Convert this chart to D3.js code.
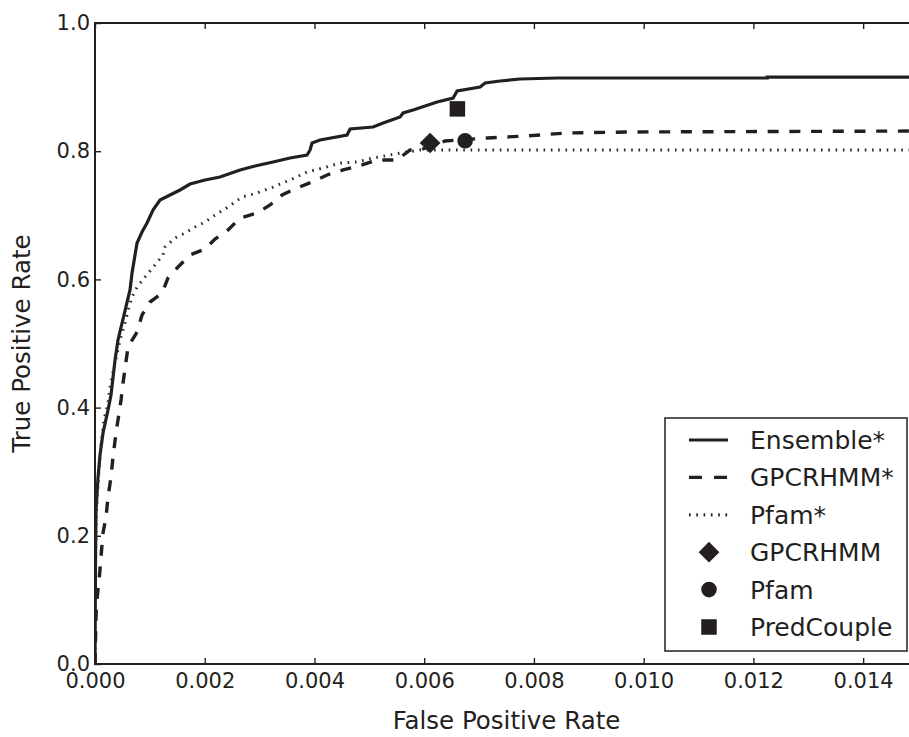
<!DOCTYPE html>
<html>
<head>
<meta charset="utf-8">
<script src="https://cdn.jsdelivr.net/npm/d3@7"></script>
<style>
  body { margin: 0; background: #fff; }
  text { font-family: "DejaVu Sans", sans-serif; fill: #231f20; }
</style>
</head>
<body>
<div id="roc"></div>
<script>
// roc curves (fpr, tpr)
var ensembleFpr = [0, 0.0000091, 0.0000182, 0.0000547, 0.0000912, 0.000146, 0.000237, 0.000292, 0.000365, 0.000419,
  0.000529, 0.000638, 0.000675, 0.000766, 0.000857, 0.000948, 0.001057, 0.001185, 0.001367, 0.00155,
  0.001732, 0.002006, 0.002279, 0.002644, 0.002917, 0.003245, 0.003555, 0.003865, 0.00392, 0.003956,
  0.004102, 0.004594, 0.004649, 0.005068, 0.005251, 0.005561, 0.005615, 0.005798, 0.006235, 0.006527,
  0.0066, 0.007019, 0.00711, 0.007384, 0.007749, 0.008423, 0.012252, 0.012252, 0.015];
var ensembleTpr = [0, 0.1622, 0.2402, 0.2902, 0.3261, 0.3604, 0.3963, 0.4197, 0.4743, 0.5055,
  0.5445, 0.5835, 0.61, 0.6568, 0.674, 0.688, 0.7083, 0.7239, 0.7317, 0.7395,
  0.7488, 0.7551, 0.7598, 0.7707, 0.7769, 0.7832, 0.7894, 0.7941, 0.8019, 0.8128,
  0.8175, 0.8253, 0.8346, 0.8378, 0.844, 0.8534, 0.8596, 0.8643, 0.8768, 0.883,
  0.8939, 0.9002, 0.9064, 0.9095, 0.9126, 0.9142, 0.9142, 0.9157, 0.9157];

var gpcrFpr = [0, 0.0000091, 0.0000237, 0.0000857, 0.000109, 0.000146, 0.000201, 0.000237, 0.000292, 0.000328,
  0.000383, 0.000474, 0.000511, 0.000602, 0.000766, 0.000857, 0.001003, 0.001222, 0.001331, 0.001513,
  0.001732, 0.002006, 0.002188, 0.002425, 0.002644, 0.002954, 0.003191, 0.003409, 0.003683, 0.003956,
  0.00423, 0.004522, 0.004868, 0.005141, 0.005506, 0.005743, 0.005925, 0.006381, 0.007147, 0.00784,
  0.008606, 0.009754, 0.015];
var gpcrTpr = [0, 0.0374, 0.0889, 0.142, 0.1669, 0.2044, 0.2293, 0.2605, 0.2917, 0.3229,
  0.3604, 0.4119, 0.4384, 0.4945, 0.5179, 0.5445, 0.5647, 0.5788, 0.6022, 0.6193,
  0.6381, 0.6474, 0.663, 0.6771, 0.6958, 0.7036, 0.7161, 0.7317, 0.7426, 0.752,
  0.7629, 0.7707, 0.7785, 0.7863, 0.7863, 0.8019, 0.8019, 0.8159, 0.8206, 0.8237,
  0.8284, 0.83, 0.8315];

var pfamFpr = [0, 0, 0.0000091, 0.0000182, 0.0000365, 0.0000729, 0.000109, 0.000164, 0.000237, 0.000273,
  0.000365, 0.000456, 0.000547, 0.00062, 0.000675, 0.000766, 0.000912, 0.001094, 0.00124, 0.001276,
  0.001459, 0.001641, 0.001823, 0.002006, 0.002188, 0.002425, 0.00268, 0.002954, 0.003245, 0.003555,
  0.003865, 0.004157, 0.004467, 0.004777, 0.005068, 0.005378, 0.005688, 0.005925, 0.015];
var pfamTpr = [0, 0.0998, 0.1622, 0.209, 0.2558, 0.3027, 0.3417, 0.3807, 0.4072, 0.4321,
  0.4696, 0.5055, 0.532, 0.5569, 0.5725, 0.5881, 0.6037, 0.6225, 0.6381, 0.6505,
  0.6646, 0.6724, 0.6817, 0.6895, 0.7005, 0.7129, 0.7285, 0.7348, 0.7441, 0.7551,
  0.7676, 0.7738, 0.7816, 0.7832, 0.7894, 0.7941, 0.7988, 0.8019, 0.8019];

// single operating points
var pointNames = ["GPCRHMM", "Pfam", "PredCouple"];
var pointFpr = [0.006107, 0.006746, 0.006605];
var pointTpr = [0.8128, 0.8164, 0.866];

var curveNames = ["Ensemble*", "GPCRHMM*", "Pfam*"];
var xTicks = [0, 0.002, 0.004, 0.006, 0.008, 0.010, 0.012, 0.014];
var yTicks = [0, 0.2, 0.4, 0.6, 0.8, 1.0];

var ink = "#231f20";

// plot box
var margin = {top: 23, right: -9, bottom: 73, left: 95},
    width = 909 - margin.left - margin.right,
    height = 737 - margin.top - margin.bottom;

var svg = d3.select("#roc")
  .append("svg")
    .attr("width", 909)
    .attr("height", 737)
  .append("g")
    .attr("transform", "translate(" + margin.left + "," + margin.top + ")");

var x = d3.scaleLinear().domain([0, 0.015]).range([0, width]);
var y = d3.scaleLinear().domain([0, 1]).range([height, 0]);

svg.append("clipPath").attr("id", "clip")
  .append("rect").attr("width", width).attr("height", height);

// axes, ticks pointing inwards like matplotlib
svg.append("g")
  .attr("transform", "translate(0," + height + ")")
  .call(d3.axisBottom(x).tickValues(xTicks).tickSize(-6).tickPadding(9)
    .tickFormat(d3.format(".3f")));
svg.append("g")
  .call(d3.axisTop(x).tickValues(xTicks).tickSize(-6).tickFormat(""));
svg.append("g")
  .call(d3.axisLeft(y).tickValues(yTicks).tickSize(-6).tickPadding(5)
    .tickFormat(d3.format(".1f")));
svg.append("g")
  .attr("transform", "translate(" + width + ",0)")
  .call(d3.axisRight(y).tickValues(yTicks).tickSize(-6).tickFormat(""));

svg.selectAll(".domain").remove();
svg.selectAll(".tick line").attr("stroke", ink).attr("stroke-width", 1.4);
svg.selectAll(".tick text").style("font-size", "21px").attr("fill", ink);

// curves
function curve(fpr, tpr) {
  return d3.line()
    .x(function(d, i) { return x(fpr[i]) })
    .y(function(d, i) { return y(tpr[i]) })(fpr);
}

var lines = svg.append("g").attr("clip-path", "url(#clip)");
lines.append("path")
  .attr("d", curve(ensembleFpr, ensembleTpr))
  .attr("fill", "none").attr("stroke", ink).attr("stroke-width", 3.2);
lines.append("path")
  .attr("d", curve(gpcrFpr, gpcrTpr))
  .attr("fill", "none").attr("stroke", ink).attr("stroke-width", 3.4)
  .attr("stroke-dasharray", "11,10.7");
lines.append("path")
  .attr("d", curve(pfamFpr, pfamTpr))
  .attr("fill", "none").attr("stroke", "#2a2a2a").attr("stroke-width", 3)
  .attr("stroke-dasharray", "1.6,5.7");

// markers
var shapes = [
  {type: d3.symbolSquare, size: 215, rotate: 45},
  {type: d3.symbolCircle, size: 190, rotate: 0},
  {type: d3.symbolSquare, size: 240, rotate: 0}
];
svg.selectAll(".pt")
  .data(pointNames)
  .enter().append("path")
    .attr("class", "pt")
    .attr("d", function(d, i) { return d3.symbol().type(shapes[i].type).size(shapes[i].size)() })
    .attr("transform", function(d, i) {
      return "translate(" + x(pointFpr[i]) + "," + y(pointTpr[i]) + ") rotate(" + shapes[i].rotate + ")";
    })
    .attr("fill", ink);

// frame
svg.append("rect")
  .attr("width", width).attr("height", height)
  .attr("fill", "none").attr("stroke", ink).attr("stroke-width", 2);

// axis labels
svg.append("text")
  .attr("x", (95 + 918) / 2 - margin.left)
  .attr("y", height + 65)
  .attr("text-anchor", "middle")
  .style("font-size", "24.5px")
  .text("False Positive Rate");
svg.append("text")
  .attr("transform", "translate(" + (30 - margin.left) + "," + (height / 2) + ") rotate(-90)")
  .attr("text-anchor", "middle")
  .style("font-size", "24.5px")
  .text("True Positive Rate");

// legend
var legend = svg.append("g")
  .attr("transform", "translate(" + (665 - margin.left) + "," + (418 - margin.top) + ")");
legend.append("rect")
  .attr("width", 242).attr("height", 233)
  .attr("fill", "#fff").attr("stroke", ink).attr("stroke-width", 1.5);

var legendNames = curveNames.concat(pointNames);
var dashes = [null, "13,12", "1.6,5.7"];
var rowY = function(i) { return 22 + i * 37.4 };

legend.selectAll(".ln")
  .data(curveNames)
  .enter().append("line")
    .attr("x1", 689 - 665).attr("x2", 728 - 665)
    .attr("y1", function(d, i) { return rowY(i) })
    .attr("y2", function(d, i) { return rowY(i) })
    .attr("stroke", ink)
    .attr("stroke-width", 3.2)
    .attr("stroke-dasharray", function(d, i) { return dashes[i] });

legend.selectAll(".mk")
  .data(pointNames)
  .enter().append("path")
    .attr("d", function(d, i) { return d3.symbol().type(shapes[i].type).size(shapes[i].size)() })
    .attr("transform", function(d, i) {
      return "translate(" + (709 - 665) + "," + rowY(i + 3) + ") rotate(" + shapes[i].rotate + ")";
    })
    .attr("fill", ink);

legend.selectAll(".lt")
  .data(legendNames)
  .enter().append("text")
    .attr("x", 750 - 665)
    .attr("y", function(d, i) { return rowY(i) })
    .attr("dy", "0.36em")
    .style("font-size", "25px")
    .text(function(d) { return d });
</script>
</body>
</html>
